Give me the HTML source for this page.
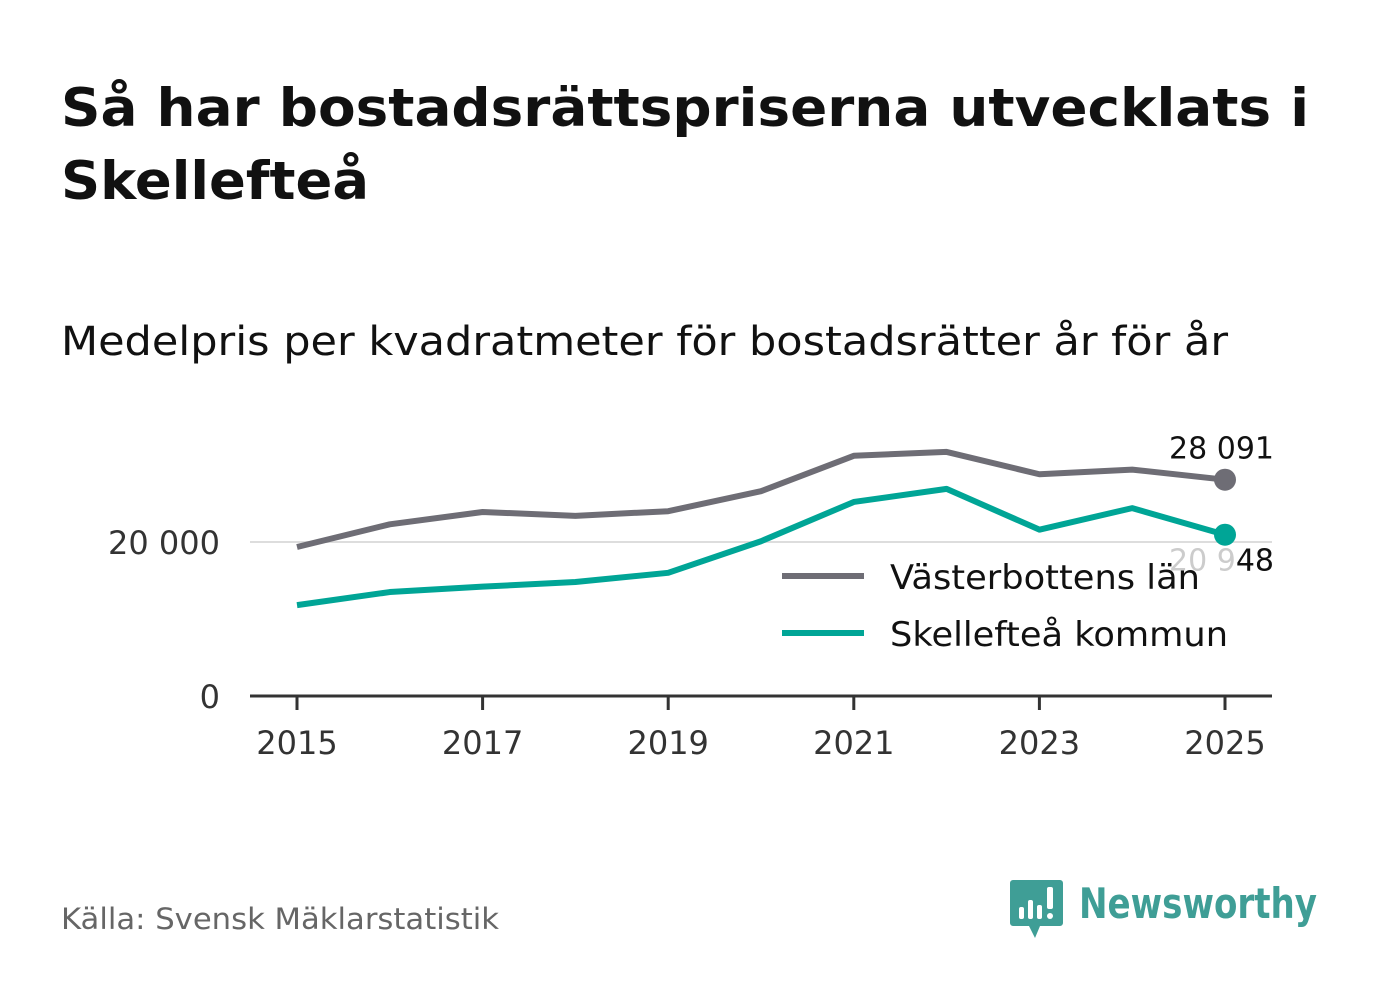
<!DOCTYPE html>
<html><head><meta charset="utf-8"><style>
body{margin:0;background:#fff;width:1382px;height:999px;overflow:hidden;font-family:"DejaVu Sans","Liberation Sans",sans-serif;}
svg text{font-family:"DejaVu Sans","Liberation Sans",sans-serif;}
</style></head><body>
<svg width="1382" height="999" id="svg">
<text x="61" y="126" font-size="53" font-weight="bold" fill="#111" textLength="1248" lengthAdjust="spacingAndGlyphs">Så har bostadsrättspriserna utvecklats i</text>
<text x="61" y="199" font-size="53" font-weight="bold" fill="#111" textLength="308" lengthAdjust="spacingAndGlyphs">Skellefteå</text>
<text x="61" y="355" font-size="40" fill="#111" textLength="1167" lengthAdjust="spacingAndGlyphs">Medelpris per kvadratmeter för bostadsrätter år för år</text>
<g id="plot"></g>
<text x="61" y="929" font-size="29" fill="#666" textLength="438" lengthAdjust="spacingAndGlyphs">Källa: Svensk Mäklarstatistik</text>
<g>
<path d="M1013 880 h47 a3 3 0 0 1 3 3 v40 a3 3 0 0 1 -3 3 h-20 l-5 12 l-6 -12 h-16 a3 3 0 0 1 -3 -3 v-40 a3 3 0 0 1 3 -3z" fill="#3f9e96"/>
<rect x="1019" y="907" width="5" height="12" rx="2" fill="#fff"/>
<rect x="1028" y="900" width="5" height="19" rx="2" fill="#fff"/>
<rect x="1037" y="905" width="5" height="14" rx="2" fill="#fff"/>
<rect x="1047" y="887" width="6" height="22" rx="2" fill="#fff"/>
<circle cx="1050" cy="916" r="3" fill="#fff"/>
<text x="1079" y="918" font-size="42" font-weight="bold" fill="#3f9e96" textLength="238" lengthAdjust="spacingAndGlyphs">Newsworthy</text>
</g>
</svg>
<script>
const years=[2015,2016,2017,2018,2019,2020,2021,2022,2023,2024,2025];
const vasterbotten=[19350,22300,23900,23400,24000,26600,31200,31700,28800,29400,28091];
const skelleftea=[11800,13500,14200,14800,16000,20100,25200,26900,21600,24400,20948];
const yTicks=[0,20000];
const yTickLabels=["0","20 000"];
const xTicks=[2015,2017,2019,2021,2023,2025];
const NS="http://www.w3.org/2000/svg";
const g=document.getElementById('plot');
const x=v=>297+(v-2015)*92.8;
const y=v=>696-v*0.0077;
function el(t,a){const e=document.createElementNS(NS,t);for(const k in a)e.setAttribute(k,a[k]);g.appendChild(e);return e;}
yTicks.forEach((t,i)=>{
 if(t>0){const l=el('line',{x1:250,x2:1272,y1:y(t),y2:y(t),stroke:'#ddd','stroke-width':2});
 
 }
 const tx=el('text',{x:220,y:y(t)+12,'font-size':32,fill:'#333','text-anchor':'end'});tx.textContent=yTickLabels[i];
 
 
});
const ax=el('line',{x1:250,x2:1272,y1:696,y2:696,stroke:'#333','stroke-width':3});


xTicks.forEach(t=>{
 const l=el('line',{x1:x(t),x2:x(t),y1:696,y2:710,stroke:'#333','stroke-width':3});
 
 
 const tx=el('text',{x:x(t),y:754,'font-size':32,fill:'#333','text-anchor':'middle'});tx.textContent=t;
 
 
});
const fmt=v=>String(v).replace(/\B(?=(\d{3})+(?!\d))/g,' ');
function series(vals,color,name,ly,lc){
 const p=el('polyline',{points:vals.map((v,i)=>x(years[i])+','+y(v)).join(' '),fill:'none',stroke:color,'stroke-width':6,'stroke-linejoin':'round'});
 
 
 const n=vals.length-1;
 const c=el('circle',{cx:x(years[n]),cy:y(vals[n]),r:11,fill:color});
 
 
 const t=el('text',{x:1274,y:y(vals[n])+ly,'font-size':30,fill:lc,'text-anchor':'end'});
 t.textContent=fmt(vals[n]);
 
 
 return t;
}
series(vasterbotten,'#6e6d75','vasterbotten',-21,'#111');
series(skelleftea,'#00a596','skelleftea',36,'#ccc');
[['Västerbottens län','#6e6d75',576,310],['Skellefteå kommun','#00a596',633,338]].forEach(([n,c,yy,w])=>{
 const l=el('line',{x1:782,x2:864,y1:yy,y2:yy,stroke:c,'stroke-width':6});
 
 
 const t=el('text',{x:890,y:yy+13,'font-size':34,fill:'#111',textLength:w,lengthAdjust:'spacingAndGlyphs'});t.textContent=n;
 
 
});
const last=fmt(skelleftea[skelleftea.length-1]);
const ov=el('text',{x:1274,y:y(skelleftea[skelleftea.length-1])+36,'font-size':30,fill:'#111','text-anchor':'end'});
ov.textContent=last.slice(-2);


</script>
</body></html>
